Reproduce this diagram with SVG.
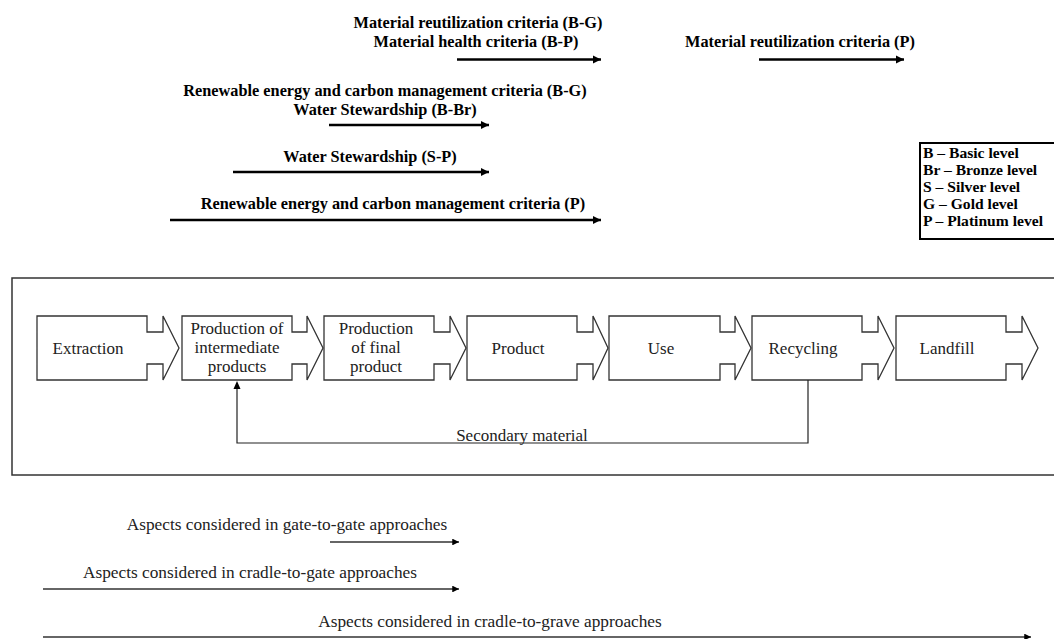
<svg xmlns="http://www.w3.org/2000/svg" width="1054" height="639" viewBox="0 0 1054 639">
<defs>
<marker id="thick" viewBox="0 0 10 10" refX="10" refY="5" markerWidth="3.4" markerHeight="3.4" markerUnits="strokeWidth" orient="auto"><path d="M0,0 L10,5 L0,10 Z" fill="#000"/></marker>
<marker id="thin" viewBox="0 0 10 10" refX="10" refY="5" markerWidth="4.5" markerHeight="4.5" markerUnits="strokeWidth" orient="auto"><path d="M0,0 L10,5 L0,10 Z" fill="#000"/></marker>
</defs>
<style>
.crit{font-family:"Liberation Serif","Times New Roman",serif;font-weight:bold;font-size:16.3px;fill:#000;text-anchor:middle}
.leg{font-family:"Liberation Serif","Times New Roman",serif;font-weight:bold;font-size:15.6px;fill:#000}
.lbl{font-family:"Liberation Serif","Times New Roman",serif;font-size:17px;fill:#222;text-anchor:middle}
.asp{font-family:"Liberation Serif","Times New Roman",serif;font-size:17.3px;fill:#222;text-anchor:middle}
.box{fill:#fff;stroke:#333;stroke-width:1.3}
.ta{stroke:#000;stroke-width:2.5;fill:none;marker-end:url(#thick)}
.na{stroke:#333;stroke-width:1.5;fill:none;marker-end:url(#thin)}
</style>
<rect width="1054" height="639" fill="#fff"/>

<!-- frame -->
<rect id="frame" x="12" y="278" width="1060" height="197" fill="none" stroke="#333" stroke-width="1.5"/>

<!-- legend -->
<g id="legend">
<rect x="920" y="143" width="150" height="96" fill="#fff" stroke="#000" stroke-width="2"/>
<text class="leg" x="923" y="158">B – Basic level</text>
<text class="leg" x="923" y="175">Br – Bronze level</text>
<text class="leg" x="923" y="192">S – Silver level</text>
<text class="leg" x="923" y="209">G – Gold level</text>
<text class="leg" x="923" y="226">P – Platinum level</text>
</g>

<!-- criteria labels -->
<g id="criteria">
<text class="crit" x="478" y="28">Material reutilization criteria (B-G)</text>
<text class="crit" x="476" y="47">Material health criteria (B-P)</text>
<text class="crit" x="800" y="47">Material reutilization criteria (P)</text>
<text class="crit" x="385" y="96">Renewable energy and carbon management criteria (B-G)</text>
<text class="crit" x="385" y="115">Water Stewardship (B-Br)</text>
<text class="crit" x="370" y="162">Water Stewardship (S-P)</text>
<text class="crit" x="393" y="209">Renewable energy and carbon management criteria (P)</text>
</g>

<!-- process nodes -->
<g id="extraction">
<path class="box" d="M37,316 H147 V332 H163 V316 L179,348 L163,380 V364 H147 V380 H37 Z"/>
<text class="lbl" x="88" y="354">Extraction</text>
</g>
<g id="intermediate">
<path class="box" d="M182,316 H292 V332 H307 V316 L323,348 L307,380 V364 H292 V380 H182 Z"/>
<text class="lbl" x="237" y="334">Production of</text>
<text class="lbl" x="237" y="353">intermediate</text>
<text class="lbl" x="237" y="372">products</text>
</g>
<g id="final">
<path class="box" d="M324,316 H434 V332 H450 V316 L466,348 L450,380 V364 H434 V380 H324 Z"/>
<text class="lbl" x="376" y="334">Production</text>
<text class="lbl" x="376" y="353">of final</text>
<text class="lbl" x="376" y="372">product</text>
</g>
<g id="product">
<path class="box" d="M467,316 H577 V332 H593 V316 L608,348 L593,380 V364 H577 V380 H467 Z"/>
<text class="lbl" x="518" y="354">Product</text>
</g>
<g id="use">
<path class="box" d="M609,316 H720 V332 H735 V316 L751,348 L735,380 V364 H720 V380 H609 Z"/>
<text class="lbl" x="661" y="354">Use</text>
</g>
<g id="recycling">
<path class="box" d="M752,316 H862 V332 H878 V316 L894,348 L878,380 V364 H862 V380 H752 Z"/>
<text class="lbl" x="803" y="354">Recycling</text>
</g>
<g id="landfill">
<path class="box" d="M896,316 H1006 V332 H1022 V316 L1038,348 L1022,380 V364 H1006 V380 H896 Z"/>
<text class="lbl" x="947" y="354">Landfill</text>
</g>

<!-- approach labels -->
<g id="approaches">
<text class="asp" x="287" y="530">Aspects considered in gate-to-gate approaches</text>
<text class="asp" x="250" y="578">Aspects considered in cradle-to-gate approaches</text>
<text class="asp" x="490" y="627">Aspects considered in cradle-to-grave approaches</text>
</g>

<!-- connectors -->
<g id="connectors">
<line class="ta" x1="457" y1="59.5" x2="601" y2="59.5"/>
<line class="ta" x1="759" y1="59.5" x2="904" y2="59.5"/>
<line class="ta" x1="329" y1="125" x2="489" y2="125"/>
<line class="ta" x1="233" y1="172" x2="489" y2="172"/>
<line class="ta" x1="170" y1="220" x2="601" y2="220"/>
<path d="M808,380 V443 H237 V387" fill="none" stroke="#222" stroke-width="1.2"/>
<path d="M237,381 L233.5,389 L240.5,389 Z" fill="#000"/>
<text class="lbl" x="522" y="441">Secondary material</text>
<line class="na" x1="330" y1="542" x2="459" y2="542"/>
<line class="na" x1="43" y1="589" x2="459" y2="589"/>
<line class="na" x1="43" y1="637" x2="1031" y2="637"/>
</g>
</svg>
